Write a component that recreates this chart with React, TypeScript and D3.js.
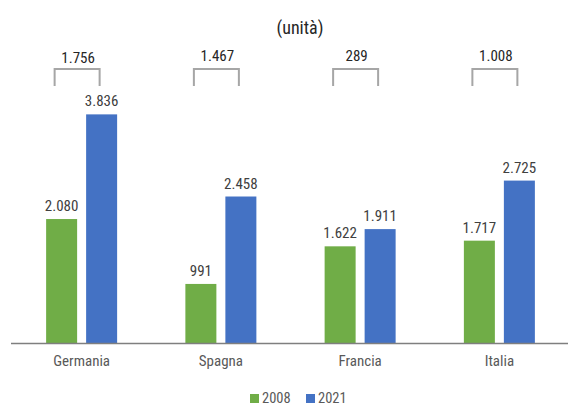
import React from "react";
import * as d3 from "d3";

const categories = ["Germania", "Spagna", "Francia", "Italia"];
const seriesNames = ["2008", "2021"];
const values2008 = [2080, 991, 1622, 1717];
const values2021 = [3836, 2458, 1911, 2725];
const diffLabels = ["1.756", "1.467", "289", "1.008"];
const seriesColors = ["#70ad47", "#4472c4"];

const W = 568;
const H = 406;
const FONT = "'Liberation Sans Narrow', 'Roboto Condensed', 'Open Sans', sans-serif";

const fmt = (v: number) => d3.format(",")(v).replace(/,/g, ".");

export default function App() {
  const x0 = d3.scaleBand<string>().domain(categories).range([12, 569]).padding(0);
  const bw = x0.bandwidth();
  const x1 = d3
    .scaleBand<string>()
    .domain(seriesNames)
    .range([bw / 2 - 35.5, bw / 2 + 35.5])
    .paddingInner(0.225)
    .paddingOuter(0);
  const y = d3.scaleLinear().domain([0, 4000]).range([343, 104.6]);
  const data = [values2008, values2021];

  return (
    <svg width={W} height={H} style={{ position: "absolute", left: 0, top: 0 }} fontFamily={FONT}>
      <rect width={W} height={H} fill="#fff" />
      <text x={300} y={34} textAnchor="middle" fontSize={18} fill="#262626">
        (unità)
      </text>
      {categories.map((c, i) => {
        const gx = x0(c)!;
        const cx = gx + bw / 2 - 4.5;
        return (
          <g key={c}>
            {seriesNames.map((s, j) => {
              const v = data[j][i];
              const bx = gx + x1(s)!;
              return (
                <g key={s}>
                  <rect x={bx} y={y(v)} width={x1.bandwidth()} height={y(0) - y(v)} fill={seriesColors[j]} />
                  <text
                    x={bx + x1.bandwidth() / 2}
                    y={y(v) - 8}
                    textAnchor="middle"
                    fontSize={15}
                    fill="#404040"
                  >
                    {fmt(v)}
                  </text>
                </g>
              );
            })}
            <path
              d={`M${cx - 22.5},86V69H${cx + 22.5}V86`}
              fill="none"
              stroke="#a6a6a6"
              strokeWidth={2}
            />
            <text x={cx + 1} y={i === 0 ? 63 : 61} textAnchor="middle" fontSize={15} fill="#262626">
              {diffLabels[i]}
            </text>
            <text x={gx + bw / 2} y={366} textAnchor="middle" fontSize={15} fill="#595959">
              {c}
            </text>
          </g>
        );
      })}
      <line x1={11} x2={568} y1={343.5} y2={343.5} stroke="#7f7f7f" strokeWidth={1.5} />
      {seriesNames.map((s, j) => (
        <g key={s} transform={`translate(${250 + j * 56},0)`}>
          <rect x={0} y={394} width={9} height={9} fill={seriesColors[j]} />
          <text x={12} y={403} fontSize={14.5} fill="#595959">
            {s}
          </text>
        </g>
      ))}
    </svg>
  );
}
